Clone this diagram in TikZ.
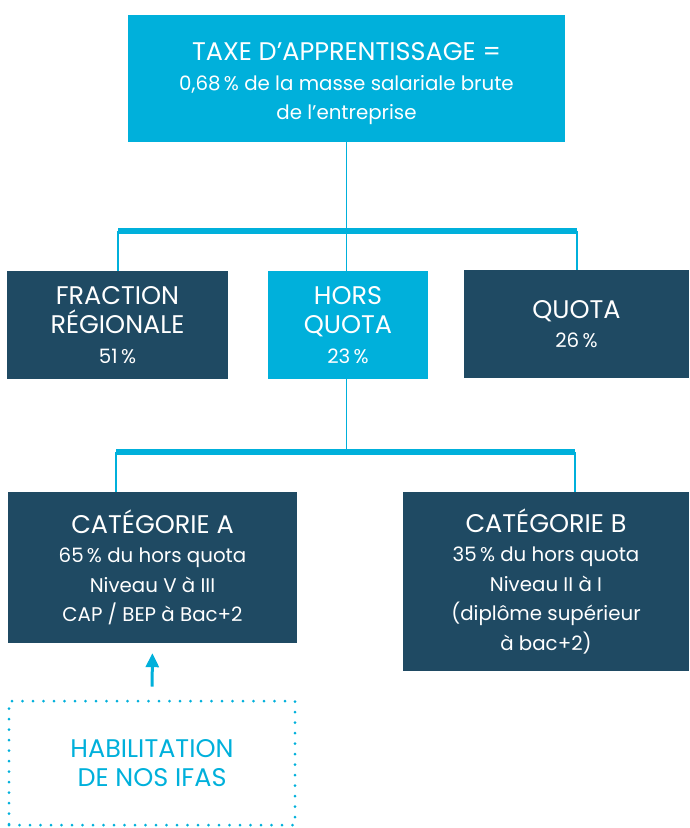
\documentclass[tikz,border=0pt]{standalone}
\usepackage{fontspec}
\setmainfont{Poppins}
\usetikzlibrary{arrows.meta}
\definecolor{lblue}{RGB}{0,176,219}
\definecolor{navy}{RGB}{31,74,99}
\tikzset{
  box/.style={inner sep=0pt, align=center, text=white, font=\fontsize{20}{29.5}\selectfont},
  lightbox/.style={box, fill=lblue},
  darkbox/.style={box, fill=navy},
  textonly/.style={inner sep=0pt, align=center, text=white, font=\fontsize{20}{29.5}\selectfont},
  thin link/.style={draw=lblue, line width=1.2pt},
  bar/.style={draw=lblue, line width=5.5pt},
  dotbox/.style={draw=lblue, line width=3pt, line cap=round, dash pattern=on 0pt off 10.5pt, inner sep=0pt, align=center, text=lblue, font=\fontsize{20}{29.5}\selectfont},
}
\newcommand{\captxt}[1]{{\fontsize{25.5}{29.5}\selectfont #1}}
\newcommand{\smtxt}[1]{{\fontsize{19.8}{29.5}\selectfont #1}}
\begin{document}
\begin{tikzpicture}[x=1pt,y=-1pt]
\useasboundingbox (0,0) rectangle (689,828);
\node[lightbox, minimum width=437pt, minimum height=127pt] (top) at (346.5,78.5) {};
\node[textonly] (toptext) at ([yshift=-5.5pt]top.center)
  {\captxt{TAXE D’APPRENTISSAGE =}\\\smtxt{0,68\,\% de la masse salariale brute}\\\smtxt{de l’entreprise}};
\node[darkbox, minimum width=221pt, minimum height=108pt] (frac) at (117.5,325)
  {\captxt{FRACTION}\\\captxt{RÉGIONALE}\\\smtxt{51\,\%}};
\node[lightbox, minimum width=160pt, minimum height=108pt] (hors) at (348,325)
  {\captxt{HORS}\\\captxt{QUOTA}\\\smtxt{23\,\%}};
\node[darkbox, minimum width=225pt, minimum height=108pt] (quota) at (576.5,324)
  {\captxt{QUOTA}\\\smtxt{26\,\%}};
\node[darkbox, minimum width=289pt, minimum height=151pt] (catA) at (152.5,567.5)
  {\captxt{CATÉGORIE A}\\\smtxt{65\,\% du hors quota}\\\smtxt{Niveau V à III}\\\smtxt{CAP / BEP à Bac+2}};
\node[darkbox, minimum width=286pt, minimum height=179pt] (catB) at (546,581.5)
  {\captxt{CATÉGORIE B}\\\smtxt{35\,\% du hors quota}\\\smtxt{Niveau II à I}\\\smtxt{(diplôme supérieur}\\\smtxt{à bac+2)}};
\node[dotbox, minimum width=286pt, minimum height=124pt] (habil) at (152,763)
  {\captxt{HABILITATION}\\\captxt{DE NOS IFAS}};
% first level connectors
\coordinate (b1w) at (118,231);
\coordinate (b1e) at (577,231);
\coordinate (b1c) at (346.5,231);
\draw[thin link] (top.south) -- (b1c);
\draw[bar] (b1w) -- (b1e);
\draw[thin link] (b1w) -- (b1w |- frac.north);
\draw[thin link] (b1c) -- (b1c |- hors.north);
\draw[thin link] (b1e) -- (b1e |- quota.north);
% second level connectors
\coordinate (b2w) at (116,452);
\coordinate (b2e) at (575,452);
\coordinate (b2c) at (346.5,452);
\draw[thin link] (b2c |- hors.south) -- (b2c);
\draw[bar] (b2w) -- (b2e);
\draw[thin link] (b2w) -- (b2w |- catA.north);
\draw[thin link] (b2e) -- (b2e |- catB.north);
% arrow
\draw[lblue, line width=3pt, -{Triangle[width=13pt,length=14pt]}, shorten <=13pt, shorten >=10pt] (habil.north) -- (catA.south);
\end{tikzpicture}
\end{document}
